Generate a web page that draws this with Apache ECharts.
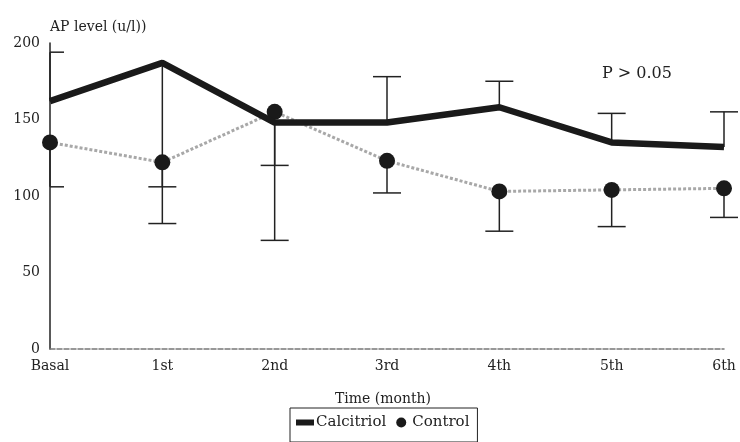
<!DOCTYPE html>
<html>
<head>
<meta charset="utf-8">
<script src="https://cdn.jsdelivr.net/npm/echarts@6/dist/echarts.min.js"></script>
<style>html,body{margin:0;padding:0;background:#fff;}#c{width:740px;height:442px;}</style>
</head>
<body>
<div id="c"></div>
<script>
const categories = ['Basal', '1st', '2nd', '3rd', '4th', '5th', '6th'];
const calcitriol = [162, 187, 148, 148, 158, 135, 132];
const calcitriolErrEnd = [194, 82, 71, 178, 175, 154, 155];
const control = [135, 122, 155, 123, 103, 104, 105];
const controlErrEnd = [106, 106, 120, 102, 77, 80, 86];
const yTicks = [0, 50, 100, 150, 200];

const FONT = 'DejaVu Serif';
const chart = echarts.init(document.getElementById('c'));

function errRender(params, api) {
  const i = api.value(0);
  const p0 = api.coord([i, api.value(1)]);
  const p1 = api.coord([i, api.value(2)]);
  const half = 14;
  const left = Math.max(p1[0] - half, params.coordSys.x);
  return {
    type: 'group',
    children: [
      { type: 'line', shape: { x1: p0[0], y1: p0[1], x2: p1[0], y2: p1[1] }, style: { stroke: '#222', lineWidth: 1.5 } },
      { type: 'line', shape: { x1: left, y1: p1[1], x2: p1[0] + half, y2: p1[1] }, style: { stroke: '#222', lineWidth: 1.5 } }
    ]
  };
}

chart.setOption({
  animation: false,
  backgroundColor: '#fff',
  textStyle: { fontFamily: FONT },
  grid: { left: 50, right: 16, top: 43, bottom: 93, containLabel: false },
  xAxis: {
    type: 'category',
    data: categories,
    boundaryGap: false,
    name: 'Time (month)',
    nameLocation: 'middle',
    nameGap: 43,
    nameTextStyle: { fontFamily: FONT, fontSize: 14, color: '#222', padding: [0, 8, 0, 0] },
    axisLine: { lineStyle: { color: '#777', width: 1.5, type: [5, 2] } },
    axisTick: { show: false },
    axisLabel: { fontFamily: FONT, fontSize: 14, color: '#222', margin: 10 },
    splitLine: { show: false }
  },
  yAxis: {
    type: 'value',
    min: yTicks[0],
    max: yTicks[yTicks.length - 1],
    interval: 50,
    name: 'AP level (u/l))',
    nameLocation: 'end',
    nameGap: 9,
    nameTextStyle: { fontFamily: FONT, fontSize: 14, color: '#222', align: 'left' },
    axisLine: { show: true, lineStyle: { color: '#222', width: 1.5 } },
    axisTick: { show: false },
    axisLabel: { fontFamily: FONT, fontSize: 14, color: '#222', margin: 10 },
    splitLine: { show: false }
  },
  legend: {
    left: 290,
    top: 408,
    borderColor: '#222',
    borderWidth: 1,
    padding: [7, 8, 12, 6],
    itemGap: 10,
    itemWidth: 18,
    itemHeight: 10,
    textStyle: { fontFamily: FONT, fontSize: 15, color: '#222', padding: [0, 0, 0, -3] },
    data: [
      { name: 'Calcitriol', icon: 'path://M0,2 L18,2 L18,8 L0,8 Z', itemStyle: { color: '#1a1a1a' } },
      { name: 'Control', icon: 'circle', itemStyle: { color: '#1a1a1a' } }
    ]
  },
  graphic: [
    { type: 'text', left: 602, top: 66, style: { text: 'P > 0.05', font: '16px "DejaVu Serif"', fill: '#222' } }
  ],
  series: [
    {
      name: 'CalcitriolErr', type: 'custom', renderItem: errRender, z: 1,
      encode: { x: 0, y: [1, 2] },
      data: categories.map((c, i) => [i, calcitriol[i], calcitriolErrEnd[i]])
    },
    {
      name: 'ControlErr', type: 'custom', renderItem: errRender, z: 1,
      encode: { x: 0, y: [1, 2] },
      data: categories.map((c, i) => [i, control[i], controlErrEnd[i]])
    },
    {
      name: 'Control', type: 'line', data: control, z: 3,
      symbol: 'circle', symbolSize: 16,
      itemStyle: { color: '#1a1a1a' },
      lineStyle: { color: '#a8a8a8', width: 3, type: [3, 2] }
    },
    {
      name: 'Calcitriol', type: 'line', data: calcitriol, z: 4,
      symbol: 'none',
      itemStyle: { color: '#1a1a1a' },
      lineStyle: { color: '#1a1a1a', width: 6.5 }
    }
  ]
});
</script>
</body>
</html>
